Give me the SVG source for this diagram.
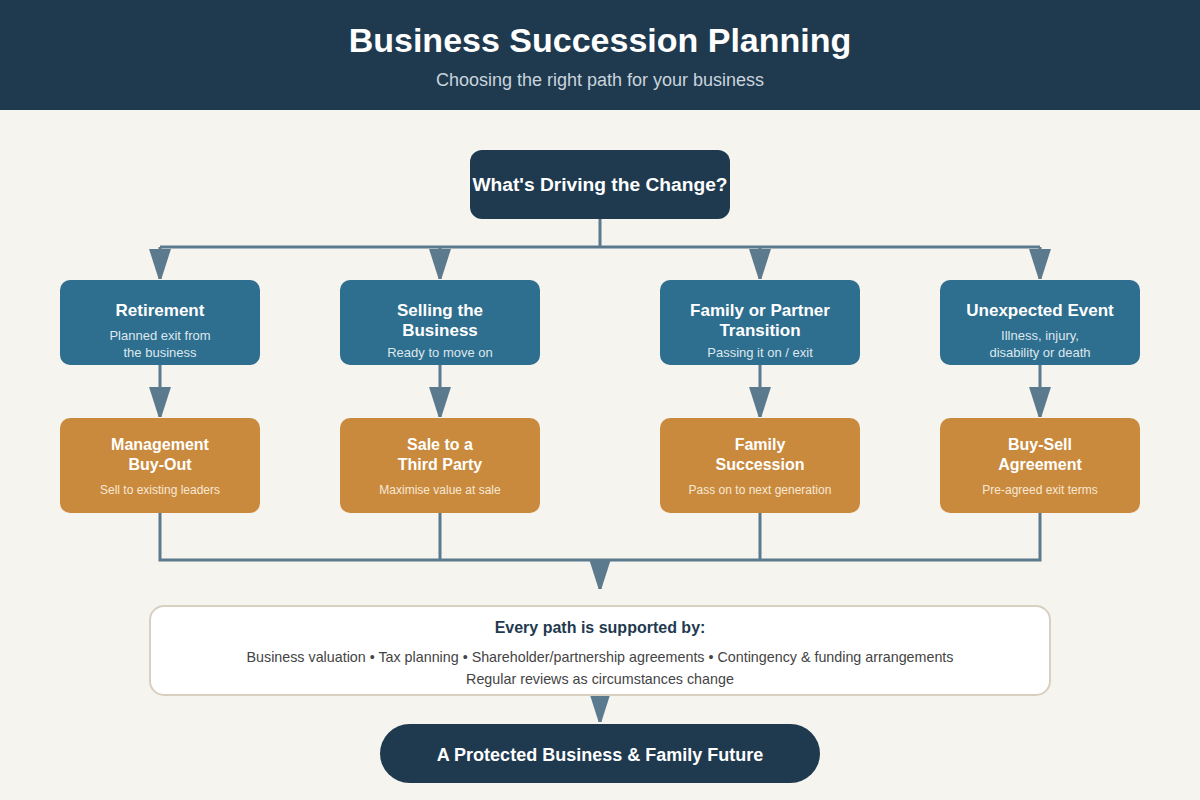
<svg xmlns="http://www.w3.org/2000/svg" width="1200" height="800" viewBox="0 0 1200 800">
<defs>
<marker id="arr" markerUnits="strokeWidth" markerWidth="10" markerHeight="7.3" viewBox="0 0 10 7.3" refX="10" refY="3.65" orient="auto">
<path d="M0,0 L10,3.2 L10,4.1 L0,7.3 Z" fill="#5b7a8e"/>
</marker>
<style>
text{font-family:"Liberation Sans",Arial,sans-serif;text-anchor:middle}
.conn{stroke:#5b7a8e;stroke-width:3;fill:none}
.blue{fill:#2e6e8e}
.orange{fill:#c98a3e}
.dark{fill:#1f3a4f}
.t{fill:#fff;font-weight:bold}
.sb{fill:#dde8ef;font-size:13px}
.so{fill:#f8e8d3;font-size:12px}
</style>
</defs>
<rect width="1200" height="800" fill="#f6f4ef"/>
<g id="header">
<rect width="1200" height="110" fill="#1f3a4f"/>
<text x="600" y="52" font-size="34" class="t">Business Succession Planning</text>
<text x="600" y="86" font-size="18" fill="#c9d4dc">Choosing the right path for your business</text>
</g>
<g id="connectors">
<path class="conn" d="M600,219 V247 M160,247 H1040"/>
<path class="conn" d="M160,247 V279" marker-end="url(#arr)"/>
<path class="conn" d="M440,247 V279" marker-end="url(#arr)"/>
<path class="conn" d="M760,247 V279" marker-end="url(#arr)"/>
<path class="conn" d="M1040,247 V279" marker-end="url(#arr)"/>
<path class="conn" d="M160,365 V417" marker-end="url(#arr)"/>
<path class="conn" d="M440,365 V417" marker-end="url(#arr)"/>
<path class="conn" d="M760,365 V417" marker-end="url(#arr)"/>
<path class="conn" d="M1040,365 V417" marker-end="url(#arr)"/>
<path class="conn" d="M160,513 V560 H1040 V513 M440,513 V560 M760,513 V560"/>
<path class="conn" d="M600,560 V589" marker-end="url(#arr)"/>
<path class="conn" d="M600,695 V722" marker-end="url(#arr)"/>
</g>
<g id="driver">
<rect x="470" y="150" width="260" height="69" rx="12" class="dark"/>
<text x="600" y="191" font-size="19.2" class="t">What's Driving the Change?</text>
</g>
<g id="retirement">
<rect x="60" y="280" width="200" height="85" rx="10" class="blue"/>
<text x="160" y="316" font-size="17" class="t">Retirement</text>
<text x="160" y="340" class="sb">Planned exit from</text>
<text x="160" y="357" class="sb">the business</text>
</g>
<g id="selling">
<rect x="340" y="280" width="200" height="85" rx="10" class="blue"/>
<text x="440" y="316" font-size="17" class="t">Selling the</text>
<text x="440" y="336" font-size="17" class="t">Business</text>
<text x="440" y="357" class="sb">Ready to move on</text>
</g>
<g id="family">
<rect x="660" y="280" width="200" height="85" rx="10" class="blue"/>
<text x="760" y="316" font-size="17" class="t">Family or Partner</text>
<text x="760" y="336" font-size="17" class="t">Transition</text>
<text x="760" y="357" class="sb">Passing it on / exit</text>
</g>
<g id="unexpected">
<rect x="940" y="280" width="200" height="85" rx="10" class="blue"/>
<text x="1040" y="316" font-size="17" class="t">Unexpected Event</text>
<text x="1040" y="340" class="sb">Illness, injury,</text>
<text x="1040" y="357" class="sb">disability or death</text>
</g>
<g id="mbo">
<rect x="60" y="418" width="200" height="95" rx="10" class="orange"/>
<text x="160" y="450" font-size="16" class="t">Management</text>
<text x="160" y="470" font-size="16" class="t">Buy-Out</text>
<text x="160" y="494" class="so">Sell to existing leaders</text>
</g>
<g id="sale">
<rect x="340" y="418" width="200" height="95" rx="10" class="orange"/>
<text x="440" y="450" font-size="16" class="t">Sale to a</text>
<text x="440" y="470" font-size="16" class="t">Third Party</text>
<text x="440" y="494" class="so">Maximise value at sale</text>
</g>
<g id="famsucc">
<rect x="660" y="418" width="200" height="95" rx="10" class="orange"/>
<text x="760" y="450" font-size="16" class="t">Family</text>
<text x="760" y="470" font-size="16" class="t">Succession</text>
<text x="760" y="494" class="so">Pass on to next generation</text>
</g>
<g id="buysell">
<rect x="940" y="418" width="200" height="95" rx="10" class="orange"/>
<text x="1040" y="450" font-size="16" class="t">Buy-Sell</text>
<text x="1040" y="470" font-size="16" class="t">Agreement</text>
<text x="1040" y="494" class="so">Pre-agreed exit terms</text>
</g>
<g id="support">
<rect x="150" y="606" width="900" height="89" rx="14" fill="#fff" stroke="#d9cfc0" stroke-width="2"/>
<text x="600" y="633" font-size="16" font-weight="bold" fill="#1f3a4f">Every path is supported by:</text>
<text x="600" y="662" font-size="14.3" fill="#444">Business valuation • Tax planning • Shareholder/partnership agreements • Contingency &amp; funding arrangements</text>
<text x="600" y="684" font-size="14.3" fill="#444">Regular reviews as circumstances change</text>
</g>
<g id="outcome">
<rect x="380" y="724" width="440" height="59" rx="29.5" class="dark"/>
<text x="600" y="761" font-size="18" class="t">A Protected Business &amp; Family Future</text>
</g>
</svg>
